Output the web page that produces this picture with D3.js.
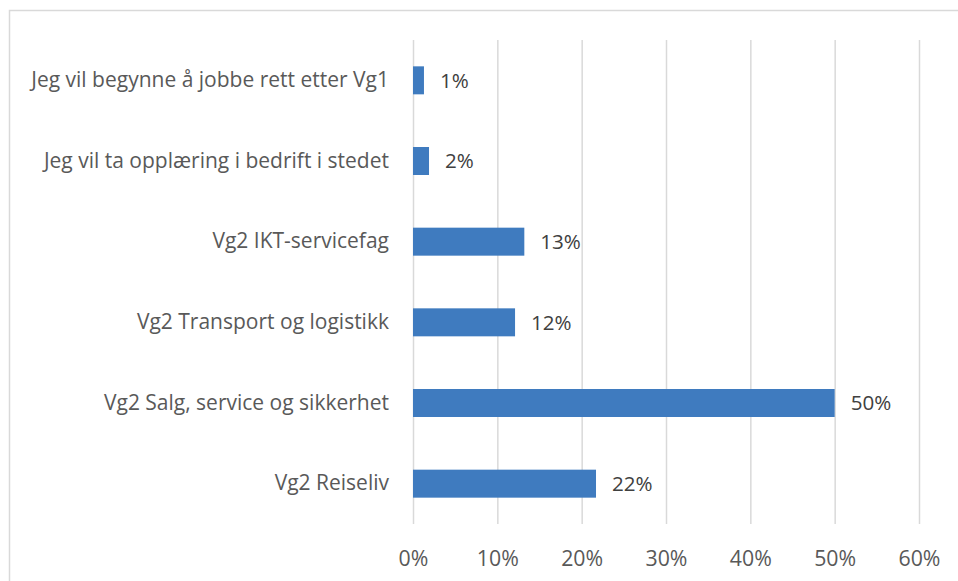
<!DOCTYPE html>
<html>
<head>
<meta charset="utf-8">
<script src="https://cdn.jsdelivr.net/npm/d3@7"></script>
<style>
  html, body { margin: 0; padding: 0; background: #ffffff; }
  svg { display: block; }
  text { font-family: "Open Sans", "Noto Sans", sans-serif; }
</style>
</head>
<body>
<svg id="chart" width="958" height="581"></svg>
<script>
const categories = [
  "Jeg vil begynne å jobbe rett etter Vg1",
  "Jeg vil ta opplæring i bedrift i stedet",
  "Vg2 IKT-servicefag",
  "Vg2 Transport og logistikk",
  "Vg2 Salg, service og sikkerhet",
  "Vg2 Reiseliv"
];
const values = [1.3, 1.9, 13.2, 12.1, 50.0, 21.7];
const tickValues = [0, 10, 20, 30, 40, 50, 60];

const svg = d3.select("#chart");
const plot = { left: 413, right: 919, top: 40, bottom: 524 };

// chart frame (partially cropped)
svg.append("rect")
  .attr("x", 9.5).attr("y", 10.5)
  .attr("width", 1200).attr("height", 1200)
  .attr("fill", "none").attr("stroke", "#d9d9d9").attr("stroke-width", 1.5);

const x = d3.scaleLinear().domain([0, 60]).range([plot.left, plot.right]);
const y = d3.scaleBand().domain(categories).range([plot.top, plot.bottom])
  .paddingInner(0.653).paddingOuter(0.3265);

// gridlines
const grid = d3.axisBottom(x).tickValues(tickValues)
  .tickSize(-(plot.bottom - plot.top)).tickFormat("");
svg.append("g")
  .attr("transform", `translate(0,${plot.bottom})`)
  .call(grid)
  .call(g => g.select(".domain").remove())
  .call(g => g.selectAll("line").attr("stroke", "#d9d9d9").attr("stroke-width", 1.5));

// x tick labels
const xAxis = d3.axisBottom(x).tickValues(tickValues).tickSize(0).tickPadding(0)
  .tickFormat(d => d + "%");
svg.append("g")
  .attr("transform", `translate(0,${plot.bottom})`)
  .call(xAxis)
  .call(g => g.select(".domain").remove())
  .call(g => g.selectAll("text")
    .attr("dy", null).attr("y", 42)
    .attr("fill", "#595959")
    .style("font-size", "21.3px")
    .style("font-family", "'Open Sans', sans-serif"));

// y category labels
const yAxis = d3.axisLeft(y).tickSize(0).tickPadding(24);
svg.append("g")
  .attr("transform", `translate(${plot.left},0)`)
  .call(yAxis)
  .call(g => g.select(".domain").remove())
  .call(g => g.selectAll("text")
    .attr("fill", "#595959")
    .style("font-size", "21px")
    .style("font-family", "'Open Sans', sans-serif"));

// bars
svg.append("g").selectAll("rect")
  .data(categories)
  .join("rect")
  .attr("x", x(0))
  .attr("y", d => y(d))
  .attr("width", (d, i) => x(values[i]) - x(0))
  .attr("height", y.bandwidth())
  .attr("fill", "#3f7bbf");

// data labels
svg.append("g").selectAll("text")
  .data(categories)
  .join("text")
  .attr("x", (d, i) => x(values[i]) + 16)
  .attr("y", d => y(d) + y.bandwidth() / 2)
  .attr("dy", "0.35em")
  .attr("fill", "#404040")
  .style("font-size", "20.6px")
  .text((d, i) => Math.round(values[i]) + "%");
</script>
</body>
</html>
